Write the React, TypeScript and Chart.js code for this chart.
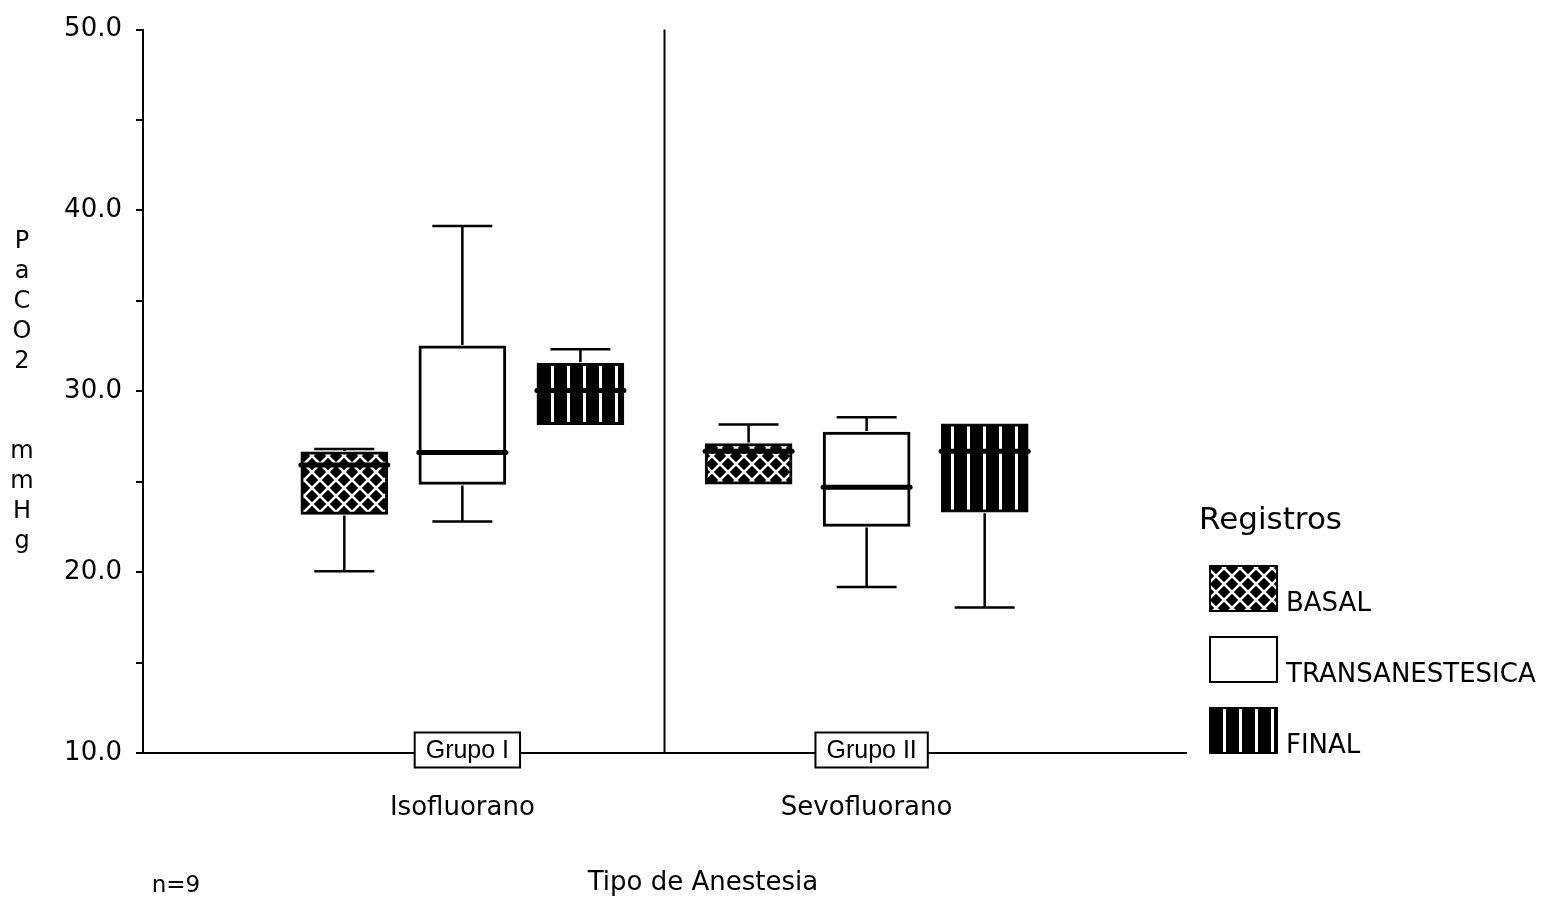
import { useEffect, useRef } from 'react';
import { Chart, registerables } from 'chart.js';

Chart.register(...registerables);

// ---------- data ----------
const groupLabels = ['Grupo I', 'Grupo II'];
const drugLabels = ['Isofluorano', 'Sevofluorano'];
const groupPositions = [1, 2];
const seriesNames = ['BASAL', 'TRANSANESTESICA', 'FINAL'];

const basalMin = [20.05, 24.87];
const basalQ1 = [23.19, 24.87];
const basalMedian = [25.93, 26.69];
const basalQ3 = [26.65, 27.11];
const basalMax = [26.81, 28.17];

const transMin = [22.8, 19.18];
const transQ1 = [24.85, 22.53];
const transMedian = [26.61, 24.69];
const transQ3 = [32.51, 27.75];
const transMax = [39.14, 28.57];

const finalMin = [28.15, 18.04];
const finalQ1 = [28.15, 23.31];
const finalMedian = [30.04, 26.69];
const finalQ3 = [31.55, 28.2];
const finalMax = [32.33, 28.2];

const yMin = 10;
const yMax = 50;
const yStep = 5;
const yAxisTitleLines = ['P', 'a', 'C', 'O', '2', '', '', 'm', 'm', 'H', 'g'];
const xAxisTitle = 'Tipo de Anestesia';
const legendTitle = 'Registros';
const sampleNote = 'n=9';

// ---------- layout constants ----------
const W = 1545;
const H = 899;
const seriesShift = [-0.292, 0, 0.292];
const FONT = '"DejaVu Sans", sans-serif';

type Stats = { min: number[]; q1: number[]; med: number[]; q3: number[]; max: number[] };
const seriesStats: Stats[] = [
  { min: basalMin, q1: basalQ1, med: basalMedian, q3: basalQ3, max: basalMax },
  { min: transMin, q1: transQ1, med: transMedian, q3: transQ3, max: transMax },
  { min: finalMin, q1: finalQ1, med: finalMedian, q3: finalQ3, max: finalMax },
];

function makePatterns(ctx: CanvasRenderingContext2D) {
  const mk = (draw: (g: CanvasRenderingContext2D) => void) => {
    const c = document.createElement('canvas');
    c.width = 16;
    c.height = 16;
    const g = c.getContext('2d')!;
    draw(g);
    return ctx.createPattern(c, 'repeat')!;
  };
  const cross = mk((g) => {
    g.fillStyle = '#000';
    g.fillRect(0, 0, 16, 16);
    g.strokeStyle = '#fff';
    g.lineWidth = 2.5;
    g.beginPath();
    g.moveTo(-2, -2);
    g.lineTo(18, 18);
    g.moveTo(18, -2);
    g.lineTo(-2, 18);
    g.stroke();
  });
  const plain = mk((g) => {
    g.fillStyle = '#fff';
    g.fillRect(0, 0, 16, 16);
  });
  const stripes = mk((g) => {
    g.fillStyle = '#000';
    g.fillRect(0, 0, 16, 16);
    g.fillStyle = '#fff';
    g.fillRect(7, 0, 3, 16);
  });
  return [cross, plain, stripes];
}

export default function App() {
  const canvasRef = useRef<HTMLCanvasElement | null>(null);

  useEffect(() => {
    document.body.style.margin = '0';
    document.body.style.overflow = 'hidden';
    const canvas = canvasRef.current!;
    const ctx = canvas.getContext('2d')!;
    const patterns = makePatterns(ctx);

    const datasets = seriesNames.map((name, si) => ({
      label: name,
      data: groupPositions.map((gx, gi) => ({
        x: gx + seriesShift[si],
        y: [seriesStats[si].q1[gi], seriesStats[si].q3[gi]],
      })),
      backgroundColor: patterns[si],
      borderColor: '#000',
      borderWidth: 3,
      borderSkipped: false,
      barThickness: 87,
      grouped: false,
    }));

    const decor = {
      id: 'decor',
      beforeDatasetsDraw(chart: any) {
        const { ctx: c, chartArea, scales } = chart;
        const xd = scales.x.getPixelForValue((groupPositions[0] + groupPositions[1]) / 2);
        c.save();
        c.strokeStyle = '#000';
        c.lineWidth = 2;
        c.beginPath();
        c.moveTo(xd, chartArea.top);
        c.lineTo(xd, chartArea.bottom);
        c.stroke();
        c.restore();
      },
      afterDatasetsDraw(chart: any) {
        const { ctx: c, scales } = chart;
        const ys = scales.y;
        c.save();
        c.strokeStyle = '#000';
        seriesStats.forEach((st, si) => {
          const meta = chart.getDatasetMeta(si);
          meta.data.forEach((el: any, gi: number) => {
            const x = el.x;
            const half = el.width / 2;
            const cap = 30;
            const yq1 = ys.getPixelForValue(st.q1[gi]);
            const yq3 = ys.getPixelForValue(st.q3[gi]);
            const ymin = ys.getPixelForValue(st.min[gi]);
            const ymax = ys.getPixelForValue(st.max[gi]);
            c.lineWidth = 2.5;
            c.lineCap = 'butt';
            c.beginPath();
            if (st.max[gi] > st.q3[gi]) {
              c.moveTo(x, yq3 - 1);
              c.lineTo(x, ymax);
              c.moveTo(x - cap, ymax);
              c.lineTo(x + cap, ymax);
            }
            if (st.min[gi] < st.q1[gi]) {
              c.moveTo(x, yq1 + 1);
              c.lineTo(x, ymin);
              c.moveTo(x - cap, ymin);
              c.lineTo(x + cap, ymin);
            }
            c.stroke();
            const ym = ys.getPixelForValue(st.med[gi]);
            c.lineWidth = 5;
            c.lineCap = 'round';
            c.beginPath();
            c.moveTo(x - half, ym);
            c.lineTo(x + half, ym);
            c.stroke();
          });
        });
        c.restore();
      },
      afterDraw(chart: any) {
        const { ctx: c, chartArea, scales } = chart;
        const xs = scales.x;
        c.save();
        // group boxes on the axis
        c.font = `25px "Liberation Sans", Arial, sans-serif`;
        c.textAlign = 'center';
        c.textBaseline = 'middle';
        groupLabels.forEach((lab, gi) => {
          const x = xs.getPixelForValue(groupPositions[gi]) + 5;
          const tw = c.measureText(lab).width;
          const bw = tw + 22;
          const bh = 35;
          const cy = chartArea.bottom - 3;
          c.fillStyle = '#fff';
          c.fillRect(x - bw / 2, cy - bh / 2, bw, bh);
          c.strokeStyle = '#000';
          c.lineWidth = 2;
          c.strokeRect(x - bw / 2, cy - bh / 2, bw, bh);
          c.fillStyle = '#000';
          c.fillText(lab, x, cy + 1);
        });
        // y axis title (stacked letters)
        c.font = `24px ${FONT}`;
        c.fillStyle = '#000';
        const midY = (chartArea.top + chartArea.bottom) / 2;
        yAxisTitleLines.forEach((ch, i) => {
          c.fillText(ch, 22, midY + (i - 5) * 30);
        });
        // x axis title
        c.font = `26px ${FONT}`;
        c.fillText(xAxisTitle, 703, 883);
        // sample note
        c.font = `23px ${FONT}`;
        c.fillText(sampleNote, 176, 886);
        // legend
        const lx = chartArea.right + 24;
        c.textAlign = 'left';
        c.font = `31px ${FONT}`;
        c.fillText(legendTitle, chartArea.right + 13, 521);
        const boxW = 67;
        const boxH = 45;
        seriesNames.forEach((name, si) => {
          const top = chartArea.bottom - boxH - (2 - si) * 71;
          c.fillStyle = patterns[si];
          c.fillRect(lx, top, boxW, boxH);
          c.strokeStyle = '#000';
          c.lineWidth = 2;
          c.strokeRect(lx, top, boxW, boxH);
          c.fillStyle = '#000';
          c.font = `26px ${FONT}`;
          c.textBaseline = 'alphabetic';
          c.fillText(name, lx + boxW + 9, top + boxH);
          c.textBaseline = 'middle';
        });
        c.restore();
      },
    };

    const chart = new Chart(canvas, {
      type: 'bar',
      data: { datasets: datasets as any },
      options: {
        animation: false,
        responsive: false,
        devicePixelRatio: 1,
        layout: { padding: { top: 25, right: W - 1186, bottom: 0, left: 0 } },
        plugins: { legend: { display: false }, tooltip: { enabled: false } },
        scales: {
          x: {
            type: 'linear',
            min: 0.21,
            max: 2.79,
            offset: false,
            grid: { display: false, drawTicks: false },
            border: { display: true, color: '#000', width: 2 },
            afterBuildTicks: (scale: any) => {
              scale.ticks = groupPositions.map((v) => ({ value: v }));
            },
            afterFit: (scale: any) => {
              scale.height = 146;
            },
            ticks: {
              padding: 40,
              color: '#000',
              font: { family: FONT, size: 26 },
              maxRotation: 0,
              callback: (v: any) => {
                const i = groupPositions.indexOf(Number(v));
                return i >= 0 ? drugLabels[i] : '';
              },
            },
          },
          y: {
            type: 'linear',
            min: yMin,
            max: yMax,
            grid: { display: true, drawOnChartArea: false, drawTicks: true, tickLength: 7, tickColor: '#000', lineWidth: 2 },
            border: { display: true, color: '#000', width: 2 },
            afterFit: (scale: any) => {
              scale.width = 143;
            },
            ticks: {
              stepSize: yStep,
              padding: 14,
              color: '#000',
              font: { family: FONT, size: 26 },
              callback: (v: any) => (Number(v) % 10 === 0 ? Number(v).toFixed(1) : ''),
            },
          },
        },
      } as any,
      plugins: [decor],
    });
    return () => chart.destroy();
  }, []);

  return (
    <div style={{ width: W, height: H, background: '#fff' }}>
      <canvas ref={canvasRef} width={W} height={H} style={{ width: W, height: H, display: 'block' }} />
    </div>
  );
}
